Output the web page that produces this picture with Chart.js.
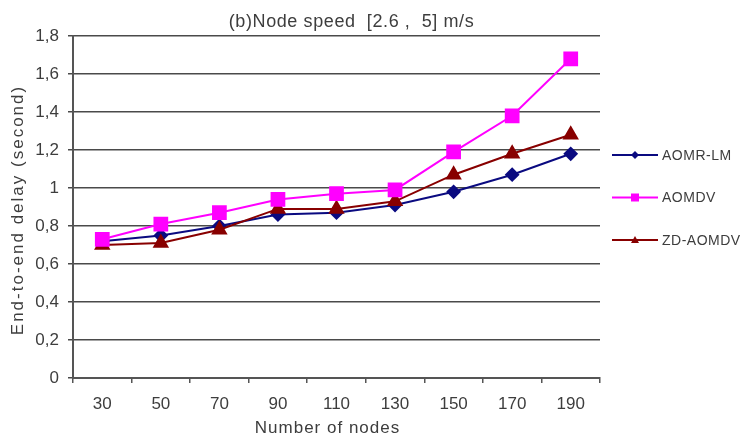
<!DOCTYPE html>
<html>
<head>
<meta charset="utf-8">
<script src="https://cdn.jsdelivr.net/npm/chart.js@4/dist/chart.umd.min.js"></script>
<style>
  html, body { margin: 0; padding: 0; background: #fff; }
  #wrap { width: 743px; height: 436px; }
</style>
</head>
<body>
<div id="wrap"><canvas id="delayChart" width="743" height="436"></canvas></div>
<script>
// data
const nodes = ['30', '50', '70', '90', '110', '130', '150', '170', '190'];
const aomrLm = [0.72, 0.75, 0.80, 0.86, 0.87, 0.91, 0.98, 1.07, 1.18];
const aomdv = [0.73, 0.81, 0.87, 0.94, 0.97, 0.99, 1.19, 1.38, 1.68];
const zdAomdv = [0.70, 0.71, 0.78, 0.89, 0.89, 0.93, 1.07, 1.18, 1.28];
const yTicks = [0, 0.2, 0.4, 0.6, 0.8, 1, 1.2, 1.4, 1.6, 1.8];

const chartTitle = '(b)Node speed  [2.6 ,  5] m/s';
const xTitle = 'Number of nodes';
const yTitle = 'End-to-end delay (second)';

const textColor = '#3d3d3d';
const fontFamily = '"Liberation Sans", Arial, sans-serif';

// titles drawn by hand so the letter spacing can be widened like the original
const titles = {
    id: 'titles',
    afterDraw(chart) {
        const c = chart.ctx;
        const area = chart.chartArea;
        const mid = (area.left + area.right) / 2;
        c.save();
        c.fillStyle = textColor;
        c.textAlign = 'center';
        c.textBaseline = 'middle';

        c.font = '18px ' + fontFamily;
        c.letterSpacing = '0.6px';
        c.fillText(chartTitle, mid + 15, area.top - 14);

        c.font = '17px ' + fontFamily;
        c.letterSpacing = '1px';
        c.fillText(xTitle, mid - 9, area.bottom + 50);

        c.letterSpacing = '2px';
        c.translate(18, (area.top + area.bottom) / 2 + 3);
        c.rotate(-Math.PI / 2);
        c.fillText(yTitle, 0, 0);
        c.restore();
    }
};

// excel-like legend: short line with the marker in its middle
const sideLegend = {
    id: 'sideLegend',
    afterDraw(chart) {
        const c = chart.ctx;
        const area = chart.chartArea;
        const x0 = area.right + 12;
        const lineLen = 46;
        let y = area.top + 119;
        c.save();
        chart.data.datasets.forEach(function(ds) {
            c.strokeStyle = ds.borderColor;
            c.lineWidth = 2;
            c.beginPath();
            c.moveTo(x0, y);
            c.lineTo(x0 + lineLen, y);
            c.stroke();
            c.fillStyle = ds.borderColor;
            const cx = x0 + lineLen / 2;
            c.beginPath();
            if (ds.pointStyle === 'rect') {
                c.rect(cx - 4, y - 4, 8, 8);
            } else if (ds.pointStyle === 'rectRot') {
                c.moveTo(cx - 4, y); c.lineTo(cx, y - 4);
                c.lineTo(cx + 4, y); c.lineTo(cx, y + 4);
            } else {
                c.moveTo(cx, y - 4); c.lineTo(cx + 4, y + 3);
                c.lineTo(cx - 4, y + 3);
            }
            c.closePath();
            c.fill();
            c.fillStyle = textColor;
            c.font = '14px ' + fontFamily;
            c.letterSpacing = '0.5px';
            c.textBaseline = 'middle';
            c.fillText(ds.label, x0 + lineLen + 4, y + 1);
            y += 42.5;
        });
        c.restore();
    }
};

const ctx = document.getElementById('delayChart').getContext('2d');
new Chart(ctx, {
    type: 'line',
    data: {
        labels: nodes,
        datasets: [{
            label: 'AOMR-LM',
            data: aomrLm,
            borderColor: '#0a0a80',
            backgroundColor: '#0a0a80',
            borderWidth: 2,
            pointStyle: 'rectRot',
            pointRadius: 6,
            order: 2
        }, {
            label: 'AOMDV',
            data: aomdv,
            borderColor: '#ff00ff',
            backgroundColor: '#ff00ff',
            borderWidth: 2,
            pointStyle: 'rect',
            pointRadius: 9,
            order: 0
        }, {
            label: 'ZD-AOMDV',
            data: zdAomdv,
            borderColor: '#880000',
            backgroundColor: '#880000',
            borderWidth: 2,
            pointStyle: 'triangle',
            pointRadius: 7.5,
            order: 1
        }]
    },
    options: {
        responsive: false,
        animation: false,
        layout: { padding: { left: 0, right: 143, top: 36, bottom: 0 } },
        plugins: {
            legend: { display: false },
            tooltip: { enabled: false },
            title: { display: false }
        },
        scales: {
            x: {
                offset: true,
                afterFit(scale) { scale.height = 58; },
                grid: {
                    offset: true,
                    drawOnChartArea: false,
                    drawTicks: true,
                    tickLength: 5,
                    color: '#555',
                    lineWidth: 1.5
                },
                border: { color: '#555', width: 2 },
                ticks: {
                    color: textColor,
                    font: { family: fontFamily, size: 17 },
                    padding: 11,
                    maxRotation: 0
                }
            },
            y: {
                min: 0,
                max: 1.8,
                afterFit(scale) { scale.width = 73; },
                afterBuildTicks(scale) {
                    scale.ticks = yTicks.map(v => ({ value: v }));
                },
                grid: {
                    color: '#4a4a4a',
                    lineWidth: 1.5,
                    tickLength: 5
                },
                border: { color: '#555', width: 2 },
                ticks: {
                    color: textColor,
                    font: { family: fontFamily, size: 17 },
                    padding: 9,
                    callback: function(v) {
                        return String(Math.round(v * 10) / 10).replace('.', ',');
                    }
                }
            }
        }
    },
    plugins: [titles, sideLegend]
});
</script>
</body>
</html>
